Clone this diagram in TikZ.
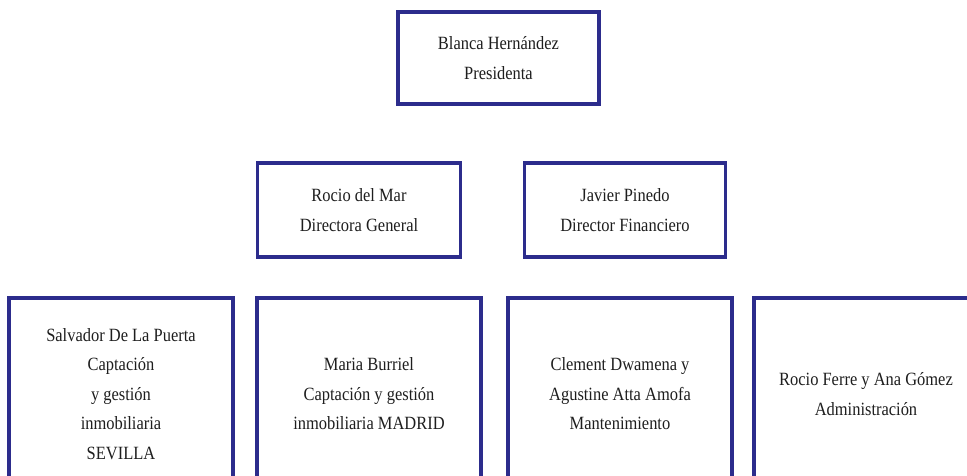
\documentclass[tikz,border=0pt]{standalone}
\usepackage{fontspec}
\setmainfont{Liberation Serif}[FakeStretch=0.88]
\definecolor{boxblue}{RGB}{44,44,140}
\definecolor{txt}{RGB}{30,30,30}
\tikzset{
  orgbox/.style={draw=boxblue, line width=3.2pt, fill=white, rectangle,
    inner sep=0pt, align=center, text=txt,
    font={\fontsize{18.7}{29.5}\selectfont}},
}
\begin{document}
\begin{tikzpicture}[x=1pt,y=-1pt]
\useasboundingbox (0,0) rectangle (967,475);
\clip (0,0) rectangle (967,475);
\fill[white] (0,0) rectangle (967,475);
% top
\node[orgbox, minimum width=201pt, minimum height=92pt] (pres) at (498.5,58) {Blanca Hernández\\Presidenta};
% middle
\node[orgbox, minimum width=203pt, minimum height=94pt] (dg) at (359,210) {Rocio del Mar\\Directora General};
\node[orgbox, minimum width=201pt, minimum height=94pt] (df) at (625,210) {Javier Pinedo\\Director Financiero};
% bottom
\node[orgbox, minimum width=224pt, minimum height=192pt] (sev) at (121,394) {Salvador De La Puerta\\Captación\\y gestión\\inmobiliaria\\SEVILLA};
\node[orgbox, minimum width=224pt, minimum height=192pt] (mad) at (369,394) {Maria Burriel\\Captación y gestión\\inmobiliaria MADRID};
\node[orgbox, minimum width=224pt, minimum height=192pt] (mant) at (620,394) {Clement Dwamena y\\Agustine Atta Amofa\\Mantenimiento};
\node[orgbox, minimum width=224pt, minimum height=192pt] (adm) at (866,394) {Rocio Ferre y Ana Gómez\\Administración};
\end{tikzpicture}
\end{document}
